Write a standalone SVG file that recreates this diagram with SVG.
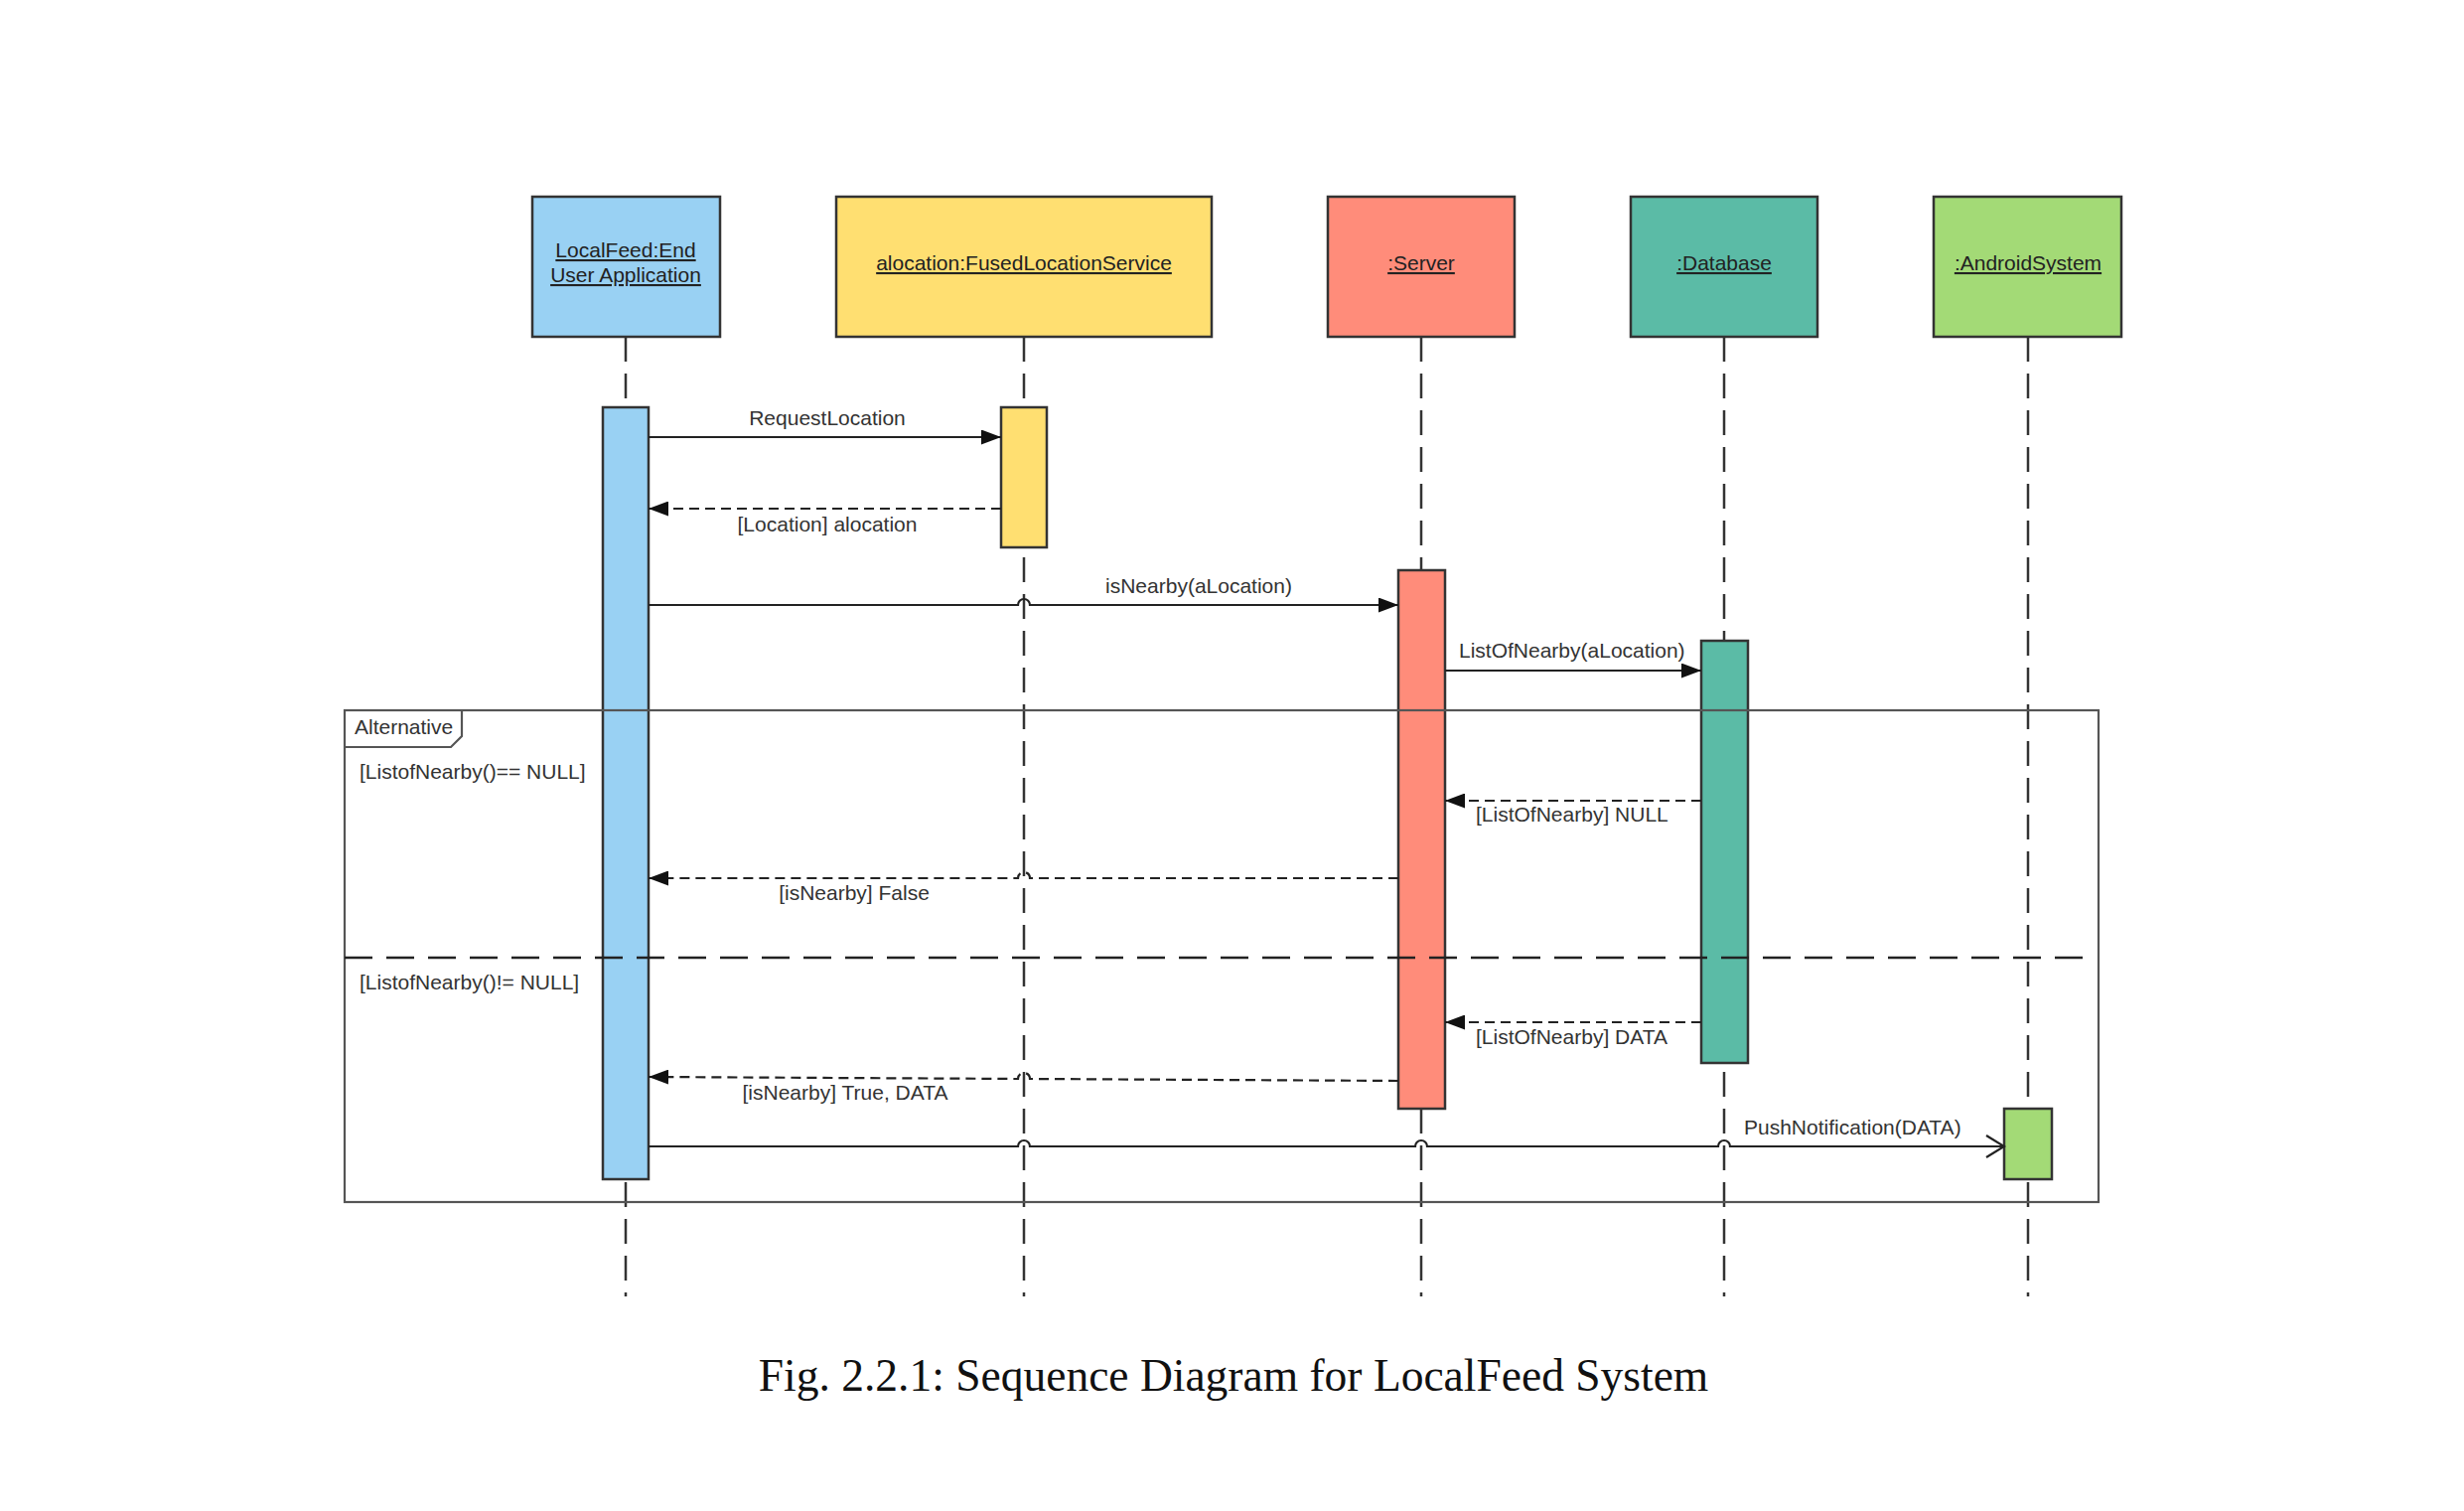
<svg xmlns="http://www.w3.org/2000/svg" width="2481" height="1521" viewBox="0 0 2481 1521">
<defs>
<style>
.hdr{stroke:#333;stroke-width:2.5}
.act{stroke:#333;stroke-width:2.5}
.life{stroke:#333;stroke-width:2.5;stroke-dasharray:25 12;fill:none}
.t{font-family:"Liberation Sans",Arial,sans-serif;font-size:21px;fill:#333}
.h{font-family:"Liberation Sans",Arial,sans-serif;font-size:21px;fill:#222;text-decoration:underline;text-anchor:middle}
.msg{stroke:#222;stroke-width:2.2;fill:none}
.ret{stroke:#222;stroke-width:2.2;fill:none;stroke-dasharray:10 6}
.frame{stroke:#555;stroke-width:2.2;fill:none}
.div{stroke:#222;stroke-width:2.5;fill:none;stroke-dasharray:28 14}
</style>
<marker id="fa" markerUnits="userSpaceOnUse" markerWidth="20" markerHeight="15" refX="20" refY="7.5" orient="auto">
<path d="M0,0 L20,7.5 L0,15 z" fill="#111"/>
</marker>
<marker id="oa" markerUnits="userSpaceOnUse" markerWidth="22" markerHeight="26" refX="20" refY="13" orient="auto">
<path d="M2,2 L20,13 L2,24" fill="none" stroke="#222" stroke-width="2.2"/>
</marker>
</defs>
<rect width="2481" height="1521" fill="#fff"/>

<g id="app">
<line class="life" x1="630" y1="339" x2="630" y2="1305"/>
<rect class="hdr" x="536" y="198" width="189" height="141" fill="#99d1f3"/>
<text class="h" x="630" y="259">LocalFeed:End</text>
<text class="h" x="630" y="284">User Application</text>
<rect class="act" x="607" y="410" width="46" height="777" fill="#99d1f3"/>
</g>

<g id="location">
<line class="life" x1="1031" y1="339" x2="1031" y2="1305"/>
<rect class="hdr" x="842" y="198" width="378" height="141" fill="#ffdf71"/>
<text class="h" x="1031" y="272">alocation:FusedLocationService</text>
<rect class="act" x="1008" y="410" width="46" height="141" fill="#ffdf71"/>
</g>

<g id="server">
<line class="life" x1="1431" y1="339" x2="1431" y2="1305"/>
<rect class="hdr" x="1337" y="198" width="188" height="141" fill="#ff8c7a"/>
<text class="h" x="1431" y="272">:Server</text>
<rect class="act" x="1408" y="574" width="47" height="542" fill="#ff8c7a"/>
</g>

<g id="database">
<line class="life" x1="1736" y1="339" x2="1736" y2="1305"/>
<rect class="hdr" x="1642" y="198" width="188" height="141" fill="#5bbba6"/>
<text class="h" x="1736" y="272">:Database</text>
<rect class="act" x="1713" y="645" width="47" height="425" fill="#5bbba6"/>
</g>

<g id="android">
<line class="life" x1="2042" y1="339" x2="2042" y2="1305"/>
<rect class="hdr" x="1947" y="198" width="189" height="141" fill="#a3da76"/>
<text class="h" x="2042" y="272">:AndroidSystem</text>
<rect class="act" x="2018" y="1116" width="48" height="71" fill="#a3da76"/>
</g>

<g id="alt-frame">
<rect class="frame" x="347" y="715" width="1766" height="495"/>
<path class="frame" d="M347,752 H454 L465,741 V715"/>
<text class="t" x="357" y="739">Alternative</text>
<line class="div" x1="347" y1="964" x2="2103" y2="964"/>
<text class="t" x="362" y="784">[ListofNearby()== NULL]</text>
<text class="t" x="362" y="996">[ListofNearby()!= NULL]</text>
</g>

<g id="connectors">
<line class="msg" x1="653" y1="440" x2="1008" y2="440" marker-end="url(#fa)"/>
<text class="t" x="833" y="428" text-anchor="middle">RequestLocation</text>

<line class="ret" x1="1008" y1="512" x2="653" y2="512" marker-end="url(#fa)"/>
<text class="t" x="833" y="535" text-anchor="middle">[Location] alocation</text>

<path class="msg" d="M653,609 H1025 A6,6 0 0 1 1037,609 H1408" marker-end="url(#fa)"/>
<text class="t" x="1207" y="597" text-anchor="middle">isNearby(aLocation)</text>

<line class="msg" x1="1455" y1="675" x2="1713" y2="675" marker-end="url(#fa)"/>
<text class="t" x="1469" y="662">ListOfNearby(aLocation)</text>

<line class="ret" x1="1713" y1="806" x2="1455" y2="806" marker-end="url(#fa)"/>
<text class="t" x="1486" y="827">[ListOfNearby] NULL</text>

<path class="ret" d="M1408,884 H1037 A6,6 0 0 0 1025,884 H653" marker-end="url(#fa)"/>
<text class="t" x="860" y="906" text-anchor="middle">[isNearby] False</text>

<line class="ret" x1="1713" y1="1029" x2="1455" y2="1029" marker-end="url(#fa)"/>
<text class="t" x="1486" y="1051">[ListOfNearby] DATA</text>

<path class="ret" d="M1408,1088 L1037,1086 A6,6 0 0 0 1025,1086 L653,1084" marker-end="url(#fa)"/>
<text class="t" x="851" y="1107" text-anchor="middle">[isNearby] True, DATA</text>

<path class="msg" d="M653,1154 H1025 A6,6 0 0 1 1037,1154 H1425 A6,6 0 0 1 1437,1154 H1730 A6,6 0 0 1 1742,1154 H2018" marker-end="url(#oa)"/>
<text class="t" x="1756" y="1142">PushNotification(DATA)</text>
</g>

<text x="1242" y="1400" text-anchor="middle" font-family="'Liberation Serif','Times New Roman',serif" font-size="45.5" fill="#111">Fig. 2.2.1: Sequence Diagram for LocalFeed System</text>
</svg>
